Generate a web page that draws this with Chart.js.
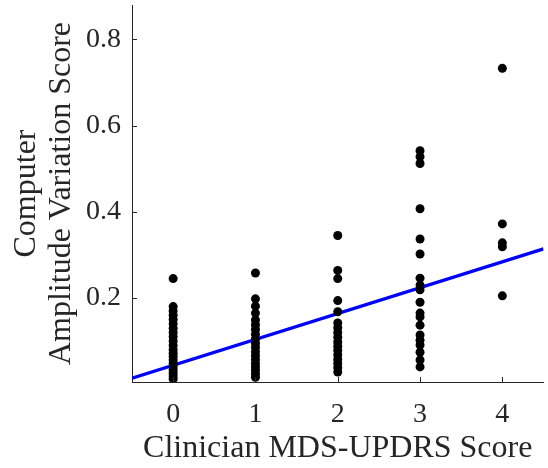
<!DOCTYPE html>
<html>
<head>
<meta charset="utf-8">
<script src="https://cdn.jsdelivr.net/npm/chart.js@4.4.1/dist/chart.umd.min.js"></script>
<style>
  html, body { margin: 0; padding: 0; background: #ffffff; }
  #wrap { width: 548px; height: 468px; position: relative; }
</style>
</head>
<body>
<div id="wrap"><canvas id="c" width="548" height="468"></canvas></div>
<script>
// Clinician score levels (x categories)
const scoreLevels = [0, 1, 2, 3, 4];
// Computer amplitude variation scores, one array per clinician score
const score0 = [0.245, 0.180, 0.170, 0.160, 0.150, 0.140, 0.130, 0.120, 0.110, 0.100, 0.090, 0.080, 0.072, 0.064, 0.056, 0.048, 0.040, 0.033, 0.026, 0.019, 0.012];
const score1 = [0.258, 0.198, 0.181, 0.165, 0.149, 0.138, 0.127, 0.116, 0.105, 0.095, 0.085, 0.075, 0.066, 0.057, 0.048, 0.040, 0.032, 0.024, 0.016];
const score2 = [0.345, 0.264, 0.245, 0.194, 0.168, 0.142, 0.131, 0.120, 0.109, 0.098, 0.088, 0.078, 0.068, 0.058, 0.048, 0.038, 0.028];
const score3 = [0.542, 0.528, 0.512, 0.407, 0.337, 0.302, 0.246, 0.230, 0.219, 0.190, 0.165, 0.156, 0.137, 0.114, 0.102, 0.091, 0.074, 0.056, 0.040];
const score4 = [0.733, 0.372, 0.328, 0.319, 0.205];
// Linear fit line end points
const fitX = [-0.5, 4.5];
const fitY = [0.014, 0.314];
// Tick labels
const xTicks = [0, 1, 2, 3, 4];
const yTicks = [0.2, 0.4, 0.6, 0.8];

const groups = [score0, score1, score2, score3, score4];
const scatterPts = [];
groups.forEach((arr, i) => arr.forEach(v => scatterPts.push({ x: scoreLevels[i], y: v })));
const fitPts = fitX.map((x, i) => ({ x: x, y: fitY[i] }));

const TXT = '#262626';
const SERIF = '"Liberation Serif", "Times New Roman", serif';

const inwardTicks = {
  id: 'inwardTicks',
  afterDraw(chart) {
    const ctx = chart.ctx;
    const xs = chart.scales.x, ys = chart.scales.y;
    const a = chart.chartArea;
    ctx.save();
    ctx.strokeStyle = TXT;
    ctx.lineWidth = 1;
    ctx.beginPath();
    xTicks.forEach(t => {
      const px = Math.round(xs.getPixelForValue(t)) + 0.5;
      ctx.moveTo(px, a.bottom);
      ctx.lineTo(px, a.bottom - 5);
    });
    yTicks.forEach(t => {
      const py = Math.round(ys.getPixelForValue(t)) + 0.5;
      ctx.moveTo(a.left, py);
      ctx.lineTo(a.left + 5, py);
    });
    ctx.stroke();
    ctx.restore();
  }
};

new Chart(document.getElementById('c'), {
  type: 'scatter',
  data: {
    datasets: [
      {
        type: 'line',
        data: fitPts,
        borderColor: '#0000ff',
        borderWidth: 3.2,
        pointRadius: 0,
        fill: false,
        order: 2
      },
      {
        data: scatterPts,
        backgroundColor: '#000000',
        borderColor: '#000000',
        pointRadius: 4.5,
        borderWidth: 0,
        order: 1
      }
    ]
  },
  options: {
    responsive: false,
    animation: false,
    layout: { padding: { top: 5, right: 0, left: 0, bottom: 0 } },
    plugins: { legend: { display: false }, tooltip: { enabled: false } },
    scales: {
      x: {
        type: 'linear',
        min: -0.5,
        max: 4.5,
        afterBuildTicks: s => { s.ticks = xTicks.map(v => ({ value: v })); },
        afterFit: s => { s.height = 86; s.paddingLeft = 0; s.paddingRight = 0; },
        grid: { display: true, drawOnChartArea: false, drawTicks: false },
        border: { display: true, color: TXT, width: 1 },
        ticks: {
          padding: 16,
          color: TXT,
          font: { family: SERIF, size: 28 },
          callback: v => String(v)
        },
        title: {
          display: true,
          text: 'Clinician MDS-UPDRS Score',
          color: TXT,
          font: { family: SERIF, size: 32, lineHeight: 1.2 },
          padding: { top: 0, bottom: 0 }
        }
      },
      y: {
        type: 'linear',
        min: 0.005,
        max: 0.88,
        afterBuildTicks: s => { s.ticks = yTicks.map(v => ({ value: v })); },
        afterFit: s => { s.width = 132; s.paddingTop = 0; s.paddingBottom = 0; },
        grid: { display: true, drawOnChartArea: false, drawTicks: false },
        border: { display: true, color: TXT, width: 1 },
        ticks: {
          padding: 11,
          color: TXT,
          font: { family: SERIF, size: 28 },
          callback: v => String(v)
        },
        title: {
          display: true,
          text: ['Computer', 'Amplitude Variation Score'],
          color: TXT,
          font: { family: SERIF, size: 32, lineHeight: 1.1 },
          padding: { top: 9, bottom: 0 }
        }
      }
    }
  },
  plugins: [inwardTicks]
});
</script>
</body>
</html>
